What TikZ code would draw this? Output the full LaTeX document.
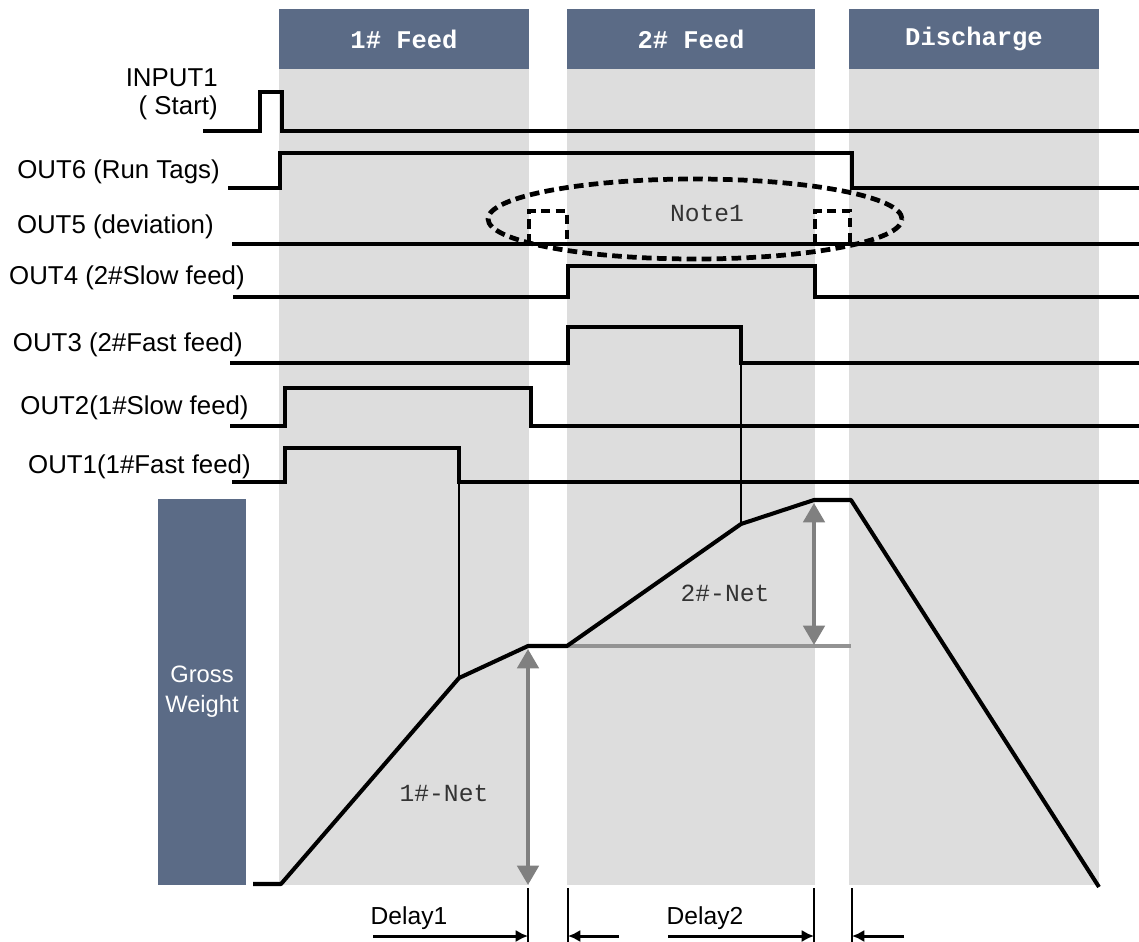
\documentclass[tikz,border=0pt]{standalone}
\usepackage{fontspec}
\setmainfont{Liberation Sans}
\newfontfamily\monofont{Liberation Mono}
\usetikzlibrary{arrows.meta, positioning}
\definecolor{hdrblue}{RGB}{91,107,134}
\definecolor{colgray}{RGB}{221,221,221}
\definecolor{netgray}{RGB}{128,128,128}

\begin{document}
\begin{tikzpicture}[
    x=0.02cm, y=-0.02cm,
    hdr/.style={rectangle, fill=hdrblue, text=white, inner sep=0pt,
                minimum width=5cm, minimum height=1.2cm,
                font=\monofont\bfseries\fontsize{14.5}{16}\selectfont},
    siglabel/.style={anchor=east, inner sep=0pt, align=right,
                font=\fontsize{14.7}{16}\selectfont},
    monolabel/.style={inner sep=0pt, text=black!80,
                font=\monofont\fontsize{14}{16}\selectfont},
    sig/.style={line width=2.3pt, line join=miter},
    pulse/.style={line width=2.7pt, dash pattern=on 5.5pt off 3pt},
    thin/.style={line width=1.1pt},
    tick/.style={line width=1.4pt},
    netarr/.style={{Triangle[width=12pt,length=11pt]}-{Triangle[width=12pt,length=11pt]},
                line width=2.5pt, color=netgray},
    delay/.style={-{Latex[length=7pt,width=7pt]}, line width=1.7pt}
]
\useasboundingbox (0,0) rectangle (1139,942);
\fill[white] (0,0) rectangle (1139,942);

\fill[colgray] (279,69) rectangle (529,885);
\fill[colgray] (567,69) rectangle (815,885);
\fill[colgray] (849,69) rectangle (1099,885);

\node[hdr] (feed1) at (404,39) {1\# Feed};
\node[hdr, minimum width=4.96cm] (feed2) at (691,39) {2\# Feed};
\node[hdr] (discharge) at (974,39) {Discharge};

\node[siglabel] (in1)  at (218,94)  {INPUT1\\( Start)};
\node[siglabel] (out6) at (220,172) {OUT6 (Run Tags)};
\node[siglabel] (out5) at (214,227) {OUT5 (deviation)};
\node[siglabel] (out4) at (245,278) {OUT4 (2\#Slow feed)};
\node[siglabel] (out3) at (243,345) {OUT3 (2\#Fast feed)};
\node[siglabel] (out2) at (249,408) {OUT2(1\#Slow feed)};
\node[siglabel] (out1) at (251,467) {OUT1(1\#Fast feed)};

\draw[sig] (203,131) -- (260,131) -- (260,92) -- (282,92) -- (282,131) -- (1139,131);
\draw[sig] (228,188) -- (280,188) -- (280,153) -- (852,153) -- (852,188) -- (1139,188);
\draw[sig] (232,244) -- (1139,244);
\draw[pulse] (529,244) -- (529,211) -- (567,211) -- (567,244);
\draw[pulse] (815,244) -- (815,211) -- (850,211) -- (850,244);
\draw[sig] (233,297) -- (568,297) -- (568,266) -- (815,266) -- (815,297) -- (1139,297);
\draw[sig] (230,363) -- (568,363) -- (568,327) -- (741,327) -- (741,363) -- (1139,363);
\draw[sig] (230,426) -- (285,426) -- (285,388) -- (531,388) -- (531,426) -- (1139,426);
\draw[sig] (232,482) -- (285,482) -- (285,448) -- (459,448) -- (459,482) -- (1139,482);

\draw[pulse] (695,219) ellipse [x radius=4.14cm, y radius=0.8cm];
\node[monolabel] (note1) at (707,213) {Note1};

\node[rectangle, fill=hdrblue, text=white, inner sep=0pt, minimum width=1.76cm,
      minimum height=7.72cm, align=center,
      font=\fontsize{13.5}{17}\selectfont] (gross) at (202,692) {Gross\\Weight};

\coordinate (w0) at (253,884);
\coordinate (w1) at (281,884);
\coordinate (w2) at (459,678);
\coordinate (w3) at (528,646);
\coordinate (w4) at (567,646);
\coordinate (w5) at (741,524);
\coordinate (w6) at (814,500);
\coordinate (w7) at (851,500);
\coordinate (w8) at (1099,887);

\draw[thin] (459,482) -- (w2);
\draw[thin] (741,363) -- (w5);
\draw[netgray!85, line width=2pt] (w4) -- (851,646);
\draw[sig, line join=round] (w0) -- (w1) -- (w2) -- (w3) -- (w4) -- (w5) -- (w6) -- (w7) -- (w8);

\draw[netarr] (528,649) -- (528,885);
\draw[netarr] (814,503) -- (814,645);
\node[monolabel] (net1) at (444,793) {1\#-Net};
\node[monolabel] (net2) at (725,593) {2\#-Net};

\coordinate (t1) at (528,888);
\coordinate (t2) at (568,888);
\coordinate (t3) at (814,888);
\coordinate (t4) at (852,888);
\draw[tick] (t1) -- ++(0,54);
\draw[tick] (t2) -- ++(0,54);
\draw[tick] (t3) -- ++(0,54);
\draw[tick] (t4) -- ++(0,54);

\draw[delay] (373,936) -- (t1 |- 0,936);
\draw[delay] (619,936) -- (t2 |- 0,936);
\draw[delay] (668,936) -- (t3 |- 0,936);
\draw[delay] (904,936) -- (t4 |- 0,936);
\node[font=\fontsize{14}{16}\selectfont, inner sep=0pt] (delay1) at (409,918) {Delay1};
\node[font=\fontsize{14}{16}\selectfont, inner sep=0pt] (delay2) at (705,918) {Delay2};
\end{tikzpicture}
\end{document}
